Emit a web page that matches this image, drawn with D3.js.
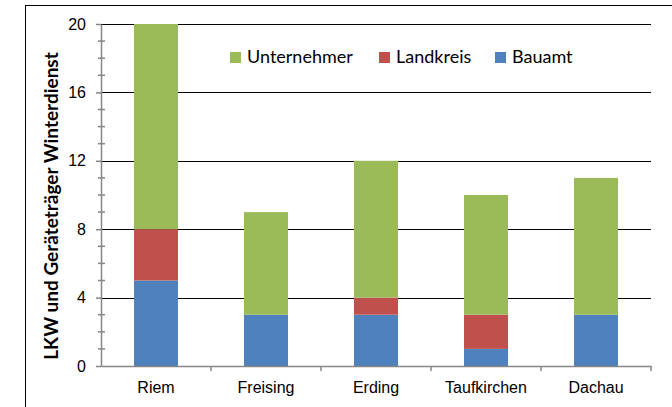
<!DOCTYPE html>
<html>
<head>
<meta charset="utf-8">
<script src="https://cdn.jsdelivr.net/npm/d3@7"></script>
<style>
  body { margin: 0; background: #fff; }
  svg { display: block; font-family: Lato, "Open Sans", sans-serif; }
</style>
</head>
<body>
<div id="wrapper"></div>
<script>
// data
const categories = ["Riem", "Freising", "Erding", "Taufkirchen", "Dachau"]
const bauamt = [5, 3, 3, 1, 3]
const landkreis = [3, 0, 1, 2, 0]
const unternehmer = [12, 6, 8, 7, 8]
const yTicks = [0, 4, 8, 12, 16, 20]

const seriesNames = ["Bauamt", "Landkreis", "Unternehmer"]
const colors = { Bauamt: "#4F81BD", Landkreis: "#C0504D", Unternehmer: "#9BBB59" }
const legendOrder = ["Unternehmer", "Landkreis", "Bauamt"]

const table = categories.map((c, i) => ({
  cat: c, Bauamt: bauamt[i], Landkreis: landkreis[i], Unternehmer: unternehmer[i]
}))

const width = 672
const height = 407
const dimensions = {
  width, height,
  margin: { top: 24, right: 21, bottom: 41, left: 101 }
}
dimensions.boundedWidth = width - dimensions.margin.left - dimensions.margin.right
dimensions.boundedHeight = height - dimensions.margin.top - dimensions.margin.bottom

const svg = d3.select("#wrapper").append("svg")
  .attr("width", width)
  .attr("height", height)

// chart border (only left and top visible in the frame)
svg.append("rect")
  .attr("x", 25.5).attr("y", 5.5)
  .attr("width", 700).attr("height", 450)
  .attr("fill", "none")
  .attr("stroke", "#000")
  .attr("stroke-width", 1)

const bounds = svg.append("g")
  .attr("transform", `translate(${dimensions.margin.left},${dimensions.margin.top})`)

const xScale = d3.scaleBand()
  .domain(categories)
  .range([0, dimensions.boundedWidth])
  .paddingInner(0.6)
  .paddingOuter(0.3)

const yScale = d3.scaleLinear()
  .domain([0, 20])
  .range([dimensions.boundedHeight, 0])

// gridlines
bounds.append("g")
  .selectAll("line")
  .data(yTicks.filter(d => d > 0))
  .join("line")
  .attr("x1", 0)
  .attr("x2", dimensions.boundedWidth)
  .attr("y1", d => Math.round(yScale(d)) + 0.5)
  .attr("y2", d => Math.round(yScale(d)) + 0.5)
  .attr("stroke", "#000")
  .attr("stroke-width", 1)

// stacked bars
const stack = d3.stack().keys(seriesNames)
const stacked = stack(table)

bounds.append("g")
  .selectAll("g")
  .data(stacked)
  .join("g")
  .attr("fill", d => colors[d.key])
  .selectAll("rect")
  .data(d => d)
  .join("rect")
  .attr("x", d => xScale(d.data.cat))
  .attr("width", xScale.bandwidth())
  .attr("y", d => yScale(d[1]))
  .attr("height", d => yScale(d[0]) - yScale(d[1]))

// y axis
const yAxis = bounds.append("g")
  .call(d3.axisLeft(yScale).tickValues(yTicks).tickSize(5).tickSizeOuter(0).tickPadding(10))
yAxis.select(".domain").attr("stroke", "#868686").attr("stroke-width", 1.5)
yAxis.selectAll(".tick line").attr("stroke", "#868686").attr("stroke-width", 1.5)
yAxis.selectAll("text")
  .style("font-size", "16px")
  .attr("fill", "#000")

// minor ticks
const minor = d3.range(1, 20).filter(d => d % 4 !== 0)
bounds.append("g")
  .selectAll("line")
  .data(minor)
  .join("line")
  .attr("x1", -3)
  .attr("x2", 4)
  .attr("y1", d => yScale(d))
  .attr("y2", d => yScale(d))
  .attr("stroke", "#868686")
  .attr("stroke-width", 1.5)

// x axis
const xAxis = bounds.append("g")
  .attr("transform", `translate(0,${dimensions.boundedHeight})`)
  .call(d3.axisBottom(xScale).tickSize(0).tickPadding(16).tickSizeOuter(0))
xAxis.select(".domain").attr("stroke", "#868686").attr("stroke-width", 1.5)
xAxis.selectAll("text").style("font-size", "16px").attr("fill", "#000")

// category boundary ticks
const step = xScale.step()
bounds.append("g")
  .selectAll("line")
  .data(d3.range(1, categories.length + 1))
  .join("line")
  .attr("x1", d => d * step)
  .attr("x2", d => d * step)
  .attr("y1", dimensions.boundedHeight)
  .attr("y2", dimensions.boundedHeight + 5)
  .attr("stroke", "#868686")
  .attr("stroke-width", 1.5)

// y axis title
svg.append("text")
  .attr("transform", `translate(58,${206}) rotate(-90)`)
  .attr("text-anchor", "middle")
  .style("font-size", "19px")
  .style("font-weight", "bold")
  .text("LKW und Geräteträger Winterdienst")

// legend
const legendX = [230, 379, 495]
const legend = svg.append("g")
legendOrder.forEach((name, i) => {
  const g = legend.append("g").attr("transform", `translate(${legendX[i]},52)`)
  g.append("rect").attr("width", 11).attr("height", 11).attr("fill", colors[name])
  g.append("text")
    .attr("x", 17).attr("y", 11)
    .style("font-size", "18px")
    .text(name)
})
</script>
</body>
</html>
